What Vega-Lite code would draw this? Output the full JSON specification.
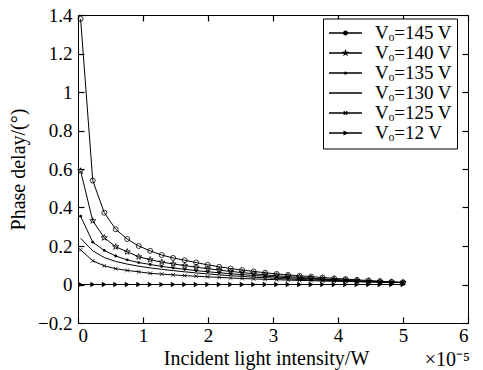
{
  "$schema": "https://vega.github.io/schema/vega-lite/v6.json",
  "autosize": {"type": "none"},
  "padding": {"left": 78, "top": 15, "right": 15, "bottom": 47},
  "width": 390,
  "height": 308,
  "background": "white",
  "config": {
    "view": {"stroke": "black", "strokeWidth": 1},
    "font": "Liberation Serif",
    "axis": {"grid": false, "domain": false, "ticks": true, "zindex": 1, "tickColor": "black", "tickWidth": 1.2, "tickSize": 6, "labelColor": "black", "labelFont": "Liberation Serif", "labelFontSize": 19, "titleFont": "Liberation Serif", "titleFontSize": 20, "titleFontWeight": "normal", "titleColor": "black"}
  },
  "data": {"values": [
    {"x": 0.04, "v145": 1.38, "v140": 0.59, "v135": 0.355, "v130": 0.24, "v125": 0.18, "v12": 0},
    {"x": 0.227, "v145": 0.54, "v140": 0.331, "v135": 0.22, "v130": 0.175, "v125": 0.123, "v12": 0},
    {"x": 0.404, "v145": 0.373, "v140": 0.243, "v135": 0.177, "v130": 0.14, "v125": 0.097, "v12": 0},
    {"x": 0.58, "v145": 0.287, "v140": 0.196, "v135": 0.148, "v130": 0.12, "v125": 0.082, "v12": 0},
    {"x": 0.757, "v145": 0.236, "v140": 0.17, "v135": 0.128, "v130": 0.106, "v125": 0.073, "v12": 0},
    {"x": 0.934, "v145": 0.2, "v140": 0.144, "v135": 0.114, "v130": 0.095, "v125": 0.066, "v12": 0},
    {"x": 1.111, "v145": 0.175, "v140": 0.129, "v135": 0.104, "v130": 0.086, "v125": 0.058, "v12": 0},
    {"x": 1.288, "v145": 0.153, "v140": 0.116, "v135": 0.094, "v130": 0.079, "v125": 0.054, "v12": 0},
    {"x": 1.464, "v145": 0.138, "v140": 0.107, "v135": 0.086, "v130": 0.072, "v125": 0.05, "v12": 0},
    {"x": 1.641, "v145": 0.126, "v140": 0.098, "v135": 0.079, "v130": 0.066, "v125": 0.046, "v12": 0},
    {"x": 1.818, "v145": 0.114, "v140": 0.09, "v135": 0.072, "v130": 0.06, "v125": 0.043, "v12": 0},
    {"x": 1.995, "v145": 0.102, "v140": 0.082, "v135": 0.066, "v130": 0.055, "v125": 0.04, "v12": 0},
    {"x": 2.172, "v145": 0.092, "v140": 0.075, "v135": 0.061, "v130": 0.05, "v125": 0.037, "v12": 0},
    {"x": 2.348, "v145": 0.083, "v140": 0.068, "v135": 0.056, "v130": 0.046, "v125": 0.034, "v12": 0},
    {"x": 2.525, "v145": 0.075, "v140": 0.062, "v135": 0.051, "v130": 0.042, "v125": 0.031, "v12": 0},
    {"x": 2.702, "v145": 0.068, "v140": 0.056, "v135": 0.047, "v130": 0.038, "v125": 0.029, "v12": 0},
    {"x": 2.879, "v145": 0.061, "v140": 0.05, "v135": 0.043, "v130": 0.035, "v125": 0.027, "v12": 0},
    {"x": 3.056, "v145": 0.055, "v140": 0.045, "v135": 0.039, "v130": 0.032, "v125": 0.025, "v12": 0},
    {"x": 3.232, "v145": 0.05, "v140": 0.041, "v135": 0.035, "v130": 0.029, "v125": 0.023, "v12": 0},
    {"x": 3.409, "v145": 0.045, "v140": 0.037, "v135": 0.032, "v130": 0.026, "v125": 0.021, "v12": 0},
    {"x": 3.586, "v145": 0.041, "v140": 0.033, "v135": 0.029, "v130": 0.024, "v125": 0.02, "v12": 0},
    {"x": 3.763, "v145": 0.036, "v140": 0.029, "v135": 0.026, "v130": 0.022, "v125": 0.018, "v12": 0},
    {"x": 3.94, "v145": 0.032, "v140": 0.026, "v135": 0.023, "v130": 0.02, "v125": 0.017, "v12": 0},
    {"x": 4.116, "v145": 0.028, "v140": 0.023, "v135": 0.021, "v130": 0.018, "v125": 0.016, "v12": 0},
    {"x": 4.293, "v145": 0.024, "v140": 0.02, "v135": 0.018, "v130": 0.016, "v125": 0.014, "v12": 0},
    {"x": 4.47, "v145": 0.021, "v140": 0.017, "v135": 0.016, "v130": 0.014, "v125": 0.013, "v12": 0},
    {"x": 4.647, "v145": 0.017, "v140": 0.015, "v135": 0.014, "v130": 0.012, "v125": 0.012, "v12": 0},
    {"x": 4.824, "v145": 0.014, "v140": 0.012, "v135": 0.012, "v130": 0.011, "v125": 0.011, "v12": 0},
    {"x": 5.0, "v145": 0.011, "v140": 0.01, "v135": 0.01, "v130": 0.01, "v125": 0.01, "v12": 0}
  ]},
  "transform": [{"fold": ["v145", "v140", "v135", "v130", "v125", "v12"], "as": ["s", "y"]}],
  "layer": [
    {
      "mark": {"type": "line", "color": "black", "strokeWidth": 1},
      "encoding": {
        "x": {"field": "x", "type": "quantitative", "scale": {"domain": [0, 6], "nice": false},
              "axis": {"orient": "bottom", "offset": -6, "values": [0, 1, 2, 3, 4, 5, 6], "title": "Incident light intensity/W", "labelPadding": 3, "titlePadding": 3, "titleX": 188}},
        "y": {"field": "y", "type": "quantitative", "scale": {"domain": [-0.2, 1.4], "nice": false, "zero": false},
              "axis": {"orient": "left", "offset": -6, "values": [-0.2, 0, 0.2, 0.4, 0.6, 0.8, 1, 1.2, 1.4], "format": "~g", "title": "Phase delay/(°)", "labelPadding": 6, "titlePadding": 9}},
        "detail": {"field": "s"}
      }
    },
    {
      "transform": [{"filter": "false"}],
      "mark": {"type": "point", "fill": "black", "stroke": "black", "strokeWidth": 1.6, "opacity": 1},
      "encoding": {
        "x": {"field": "x", "type": "quantitative", "axis": {"orient": "top", "offset": -6, "values": [0, 1, 2, 3, 4, 5, 6], "labels": false, "title": null}},
        "y": {"field": "y", "type": "quantitative", "axis": {"orient": "right", "offset": -6, "values": [-0.2, 0, 0.2, 0.4, 0.6, 0.8, 1, 1.2, 1.4], "labels": false, "title": null}},
        "shape": {"field": "s", "type": "nominal",
          "scale": {"domain": ["v145", "v140", "v135", "v130", "v125", "v12"],
                    "range": [
                      "M-2.06,-0.1L2.06,-0.1L2.06,0.1L-2.06,0.1ZM0.31,0A0.31,0.31,0,1,1,-0.31,0A0.31,0.31,0,1,1,0.31,0Z",
                      "M-2.06,-0.1L2.06,-0.1L2.06,0.1L-2.06,0.1ZM0,-0.5L0.118,-0.162L0.476,-0.155L0.19,0.062L0.294,0.405L0,0.2L-0.294,0.405L-0.19,0.062L-0.476,-0.155L-0.118,-0.162Z",
                      "M-2.06,-0.1L2.06,-0.1L2.06,0.1L-2.06,0.1ZM0.2,0A0.2,0.2,0,1,1,-0.2,0A0.2,0.2,0,1,1,0.2,0Z",
                      "M-2.06,-0.1L2.06,-0.1L2.06,0.1L-2.06,0.1Z",
                      "M-2.06,-0.1L2.06,-0.1L2.06,0.1L-2.06,0.1ZM-0.17,-0.27L0.27,0.17L0.17,0.27L-0.27,-0.17ZM-0.17,0.27L-0.27,0.17L0.17,-0.27L0.27,-0.17Z",
                      "M-2.06,-0.1L2.06,-0.1L2.06,0.1L-2.06,0.1ZM-0.25,-0.32L0.4,0L-0.25,0.32Z"]},
          "legend": {"title": null, "orient": "none", "legendX": 245, "legendY": 3.5, "padding": 5, "strokeColor": "black", "fillColor": "white", "cornerRadius": 0,
                     "labelFont": "Liberation Serif", "labelFontSize": 19, "labelColor": "black", "labelOffset": 20, "symbolOffset": 8, "symbolSize": 256, "rowPadding": 0,
                     "symbolFillColor": "black", "symbolStrokeColor": "black", "symbolStrokeWidth": 1.6, "symbolOpacity": 1,
                     "labelExpr": "'Vₒ=' + slice(datum.label, 1) + ' V'"}}
      }
    },
    {
      "transform": [{"filter": "datum.s == 'v145'"}],
      "mark": {"type": "point", "shape": "circle", "filled": false, "opacity": 1, "color": "black", "strokeWidth": 0.8, "size": 25},
      "encoding": {
        "x": {"field": "x", "type": "quantitative", "axis": null},
        "y": {"field": "y", "type": "quantitative", "axis": null}
      }
    },
    {
      "transform": [{"filter": "datum.s == 'v140'"}],
      "mark": {"type": "point", "shape": "M0,-1L0.235,-0.324L0.951,-0.309L0.38,0.124L0.588,0.809L0,0.4L-0.588,0.809L-0.38,0.124L-0.951,-0.309L-0.235,-0.324Z", "filled": false, "opacity": 1, "color": "black", "strokeWidth": 0.8, "size": 40},
      "encoding": {
        "x": {"field": "x", "type": "quantitative", "axis": null},
        "y": {"field": "y", "type": "quantitative", "axis": null}
      }
    },
    {
      "transform": [{"filter": "datum.s == 'v125'"}],
      "mark": {"type": "point", "shape": "M-1,-1L1,1M-1,1L1,-1", "filled": false, "opacity": 1, "color": "black", "strokeWidth": 0.8, "size": 14},
      "encoding": {
        "x": {"field": "x", "type": "quantitative", "axis": null},
        "y": {"field": "y", "type": "quantitative", "axis": null}
      }
    },
    {
      "transform": [{"filter": "datum.s == 'v135'"}],
      "mark": {"type": "point", "shape": "circle", "filled": true, "opacity": 1, "color": "black", "size": 8},
      "encoding": {
        "x": {"field": "x", "type": "quantitative", "axis": null},
        "y": {"field": "y", "type": "quantitative", "axis": null}
      }
    },
    {
      "transform": [{"filter": "datum.s == 'v12'"}],
      "mark": {"type": "point", "shape": "triangle-right", "filled": true, "opacity": 1, "color": "black", "size": 30},
      "encoding": {
        "x": {"field": "x", "type": "quantitative", "axis": null},
        "y": {"field": "y", "type": "quantitative", "axis": null}
      }
    },
    {
      "data": {"values": [{"t": "×10⁻⁵"}]},
      "mark": {"type": "text", "align": "right", "baseline": "alphabetic", "dy": 43, "dx": 2, "fontSize": 20, "font": "Liberation Serif", "color": "black"},
      "encoding": {
        "x": {"datum": 6, "type": "quantitative", "axis": null},
        "y": {"datum": -0.2, "type": "quantitative", "axis": null},
        "text": {"field": "t"}
      }
    }
  ]
}
